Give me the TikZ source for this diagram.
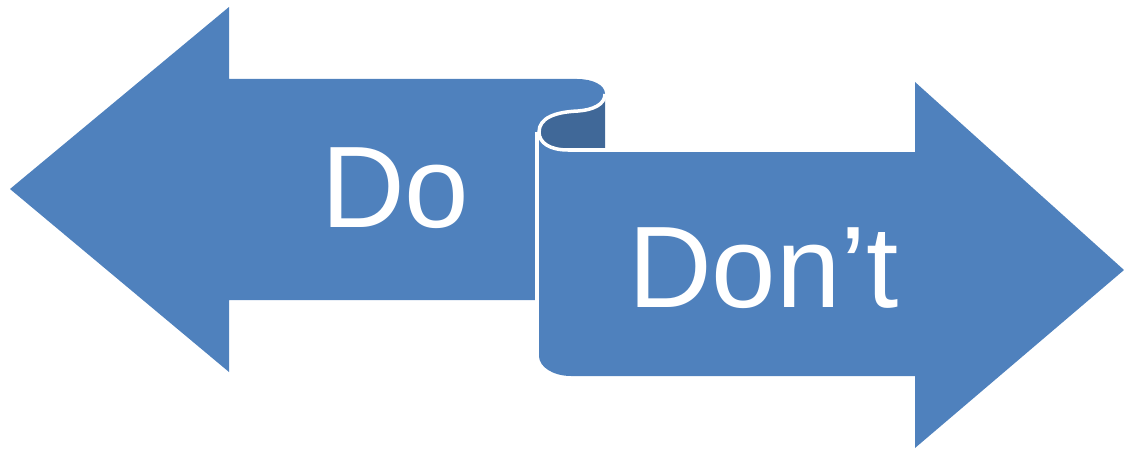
\documentclass[tikz,border=0pt]{standalone}
\usepackage{fontspec}
\setmainfont{Liberation Sans}
\definecolor{arrowblue}{HTML}{4F81BD}
\definecolor{curldark}{HTML}{406898}
\begin{document}
\begin{tikzpicture}[x=1pt,y=1pt,
  shapefill/.style={fill=arrowblue,draw=none},
  curlfill/.style={fill=curldark,draw=none},
  sepline/.style={draw=white,line width=3.5pt},
  bigtext/.style={text=white,inner sep=0pt,anchor=base west,font=\fontsize{116}{130}\selectfont}]
\useasboundingbox (0,0) rectangle (1124,448);
% left arrow
\path[shapefill] (10,259) -- (229,441) -- (229,369) -- (577,369)
  .. controls (593,369) and (605,363) .. (605,354)
  .. controls (605,343) and (592,338) .. (578,337)
  .. controls (555,336) and (539,330) .. (539,316)
  -- (539,148) -- (229,148) -- (229,76) -- cycle;
% dark inside of curl
\path[curlfill] (605,354)
  .. controls (605,343) and (592,338) .. (578,337)
  .. controls (555,336) and (539,330) .. (539,316)
  .. controls (539,305) and (550,298) .. (568,298)
  -- (605,298) -- cycle;
% right arrow
\path[shapefill] (539,316) -- (539,92)
  arc[start angle=180,end angle=270,x radius=32,y radius=20]
  -- (915,72) -- (915,0) -- (1124,178) -- (915,366) -- (915,296)
  -- (605,296) -- (605,298) -- (568,298)
  .. controls (550,298) and (539,305) .. (539,316) -- cycle;
% white separation lines
\draw[sepline] (605,354)
  .. controls (605,343) and (592,338) .. (578,337)
  .. controls (555,336) and (539,330) .. (539,316)
  .. controls (539,305) and (550,298) .. (568,298)
  -- (607,298);
\draw[draw=white,line width=4pt] (537,316) -- (537,146);
% texts
\node[bigtext] (do) at (321,221) {Do};
\node[bigtext] (dont) at (628,141) {Don’t};
\end{tikzpicture}
\end{document}
